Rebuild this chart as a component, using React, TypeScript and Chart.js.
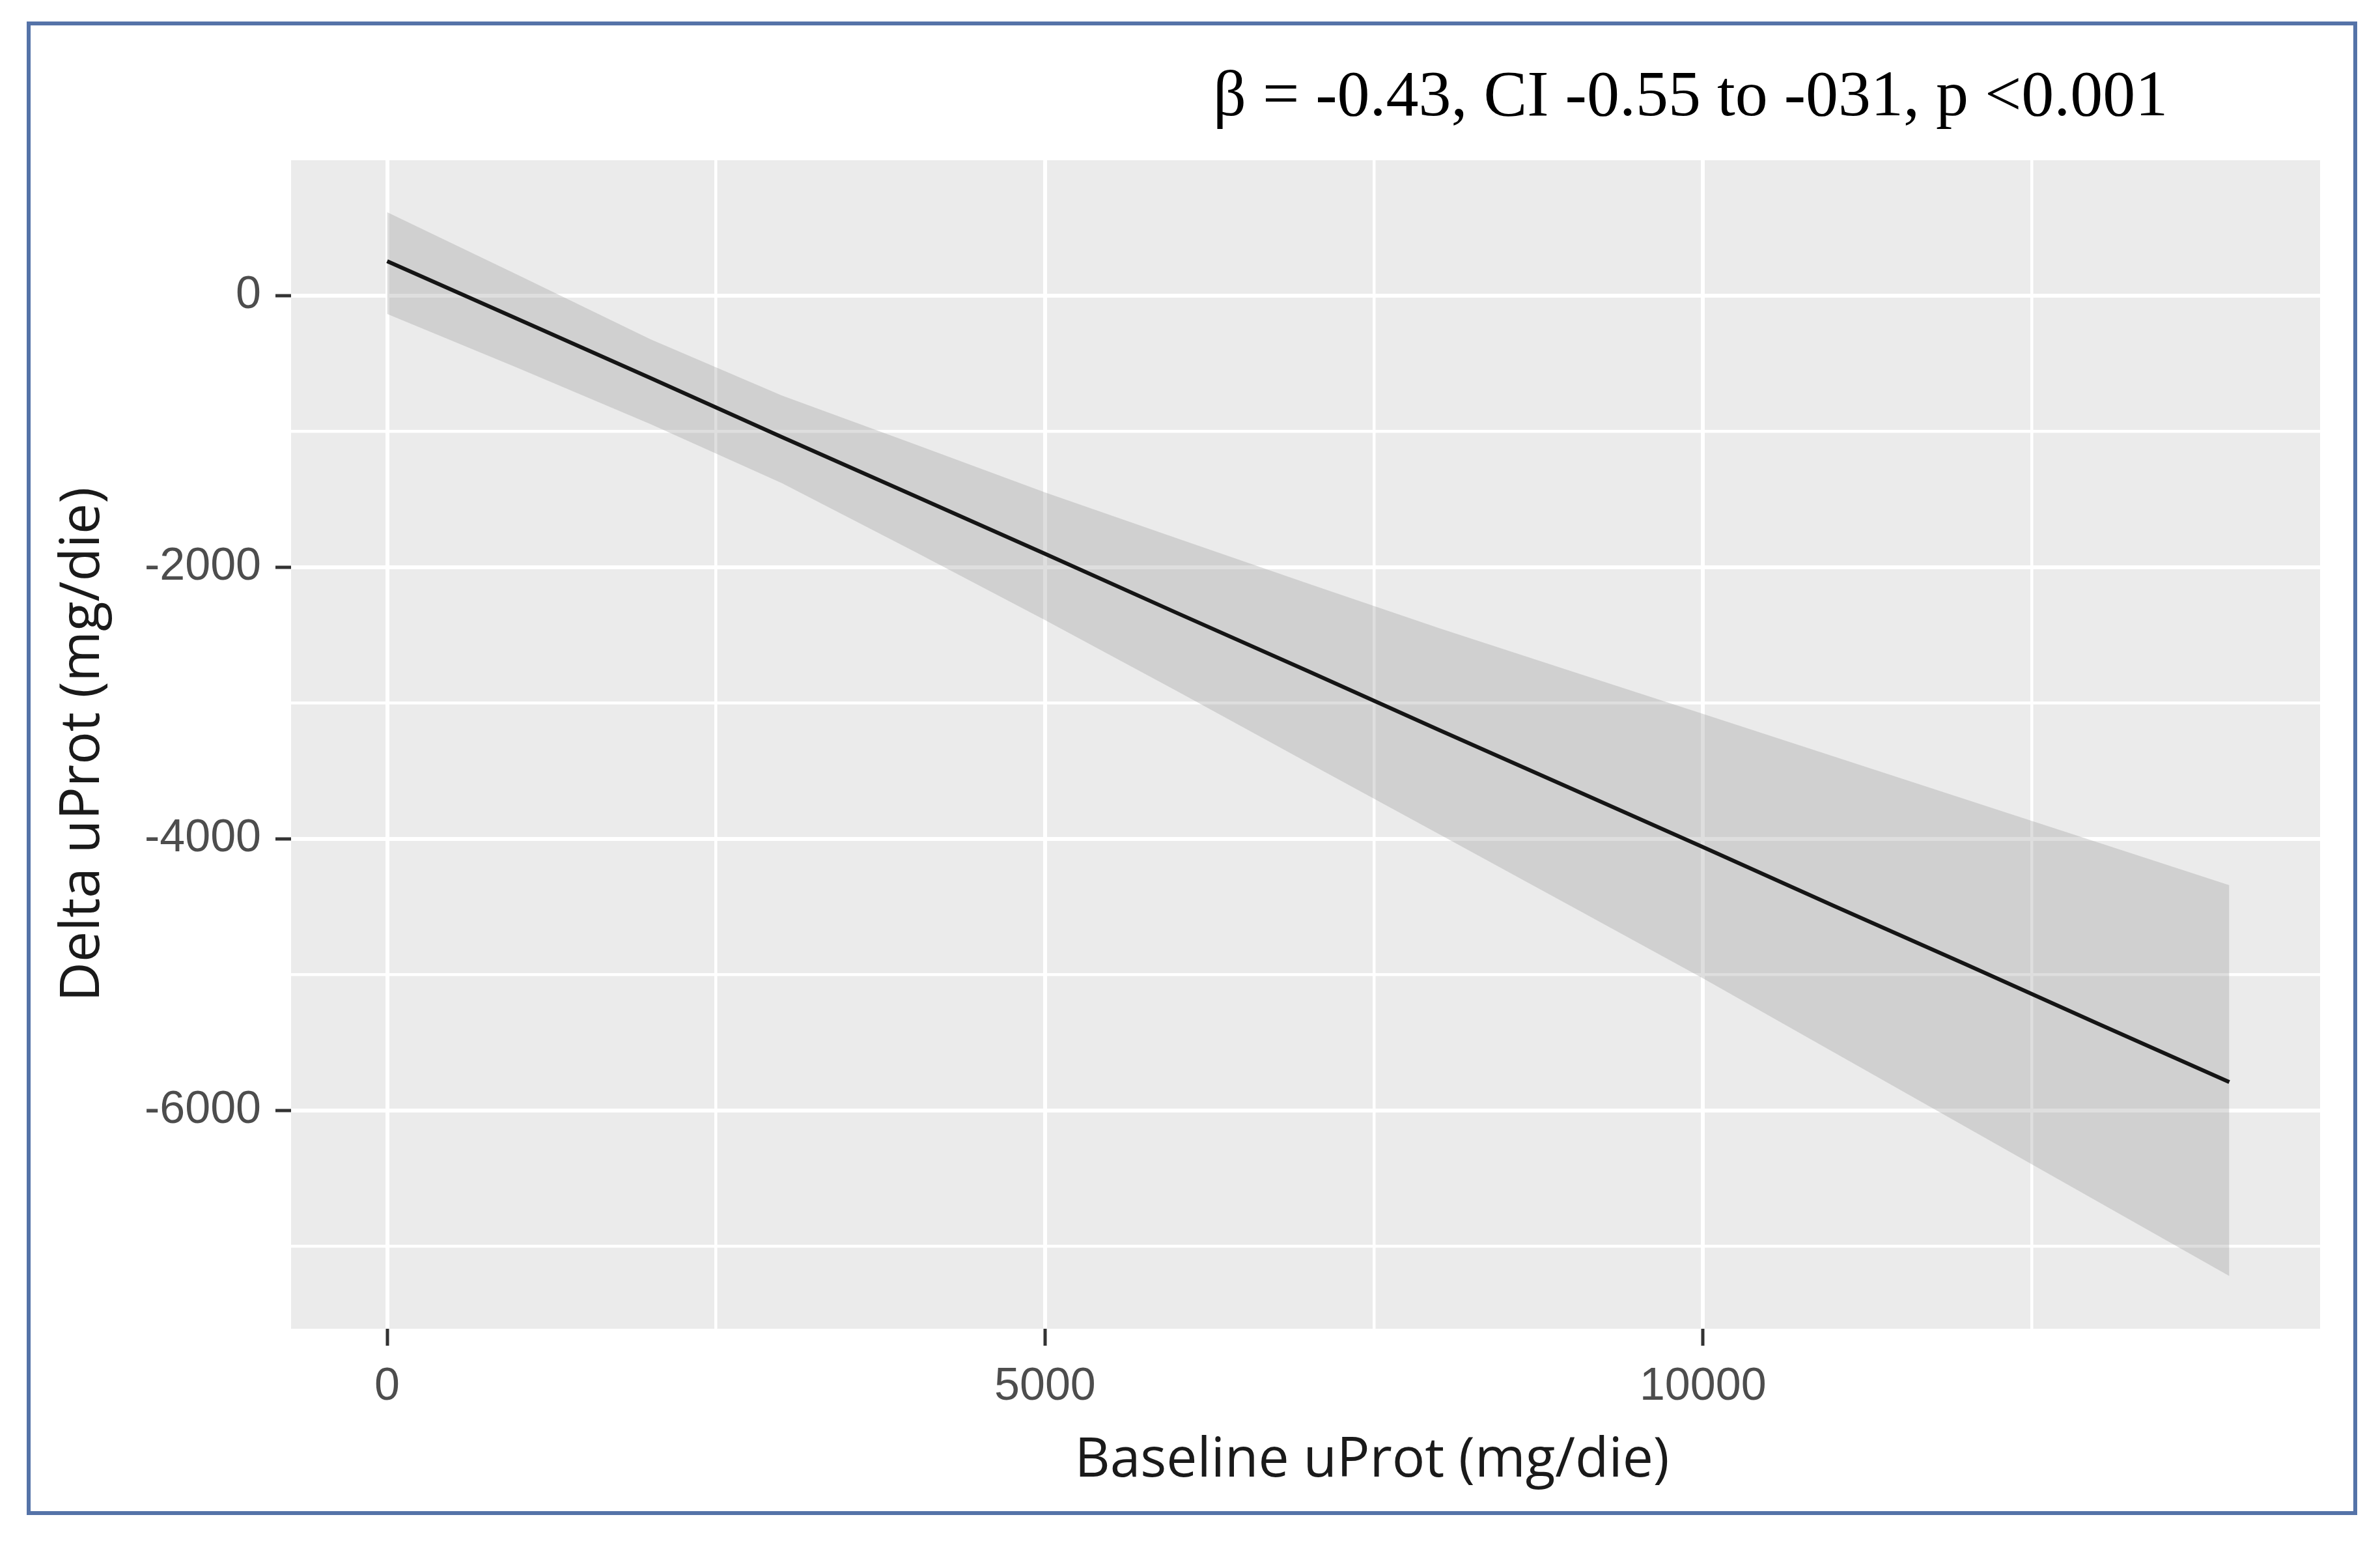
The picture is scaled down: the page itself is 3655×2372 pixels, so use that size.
import React, { useEffect, useRef } from 'react';
import { Chart, registerables } from 'chart.js';

Chart.register(...registerables);

// ---- data ----
const xValues = [0, 1000, 2000, 3000, 4000, 5000, 6000, 7000, 8000, 9000, 10000, 11000, 12000, 13000, 14000];
const fitValues = [255, -175, -605, -1040, -1470, -1900, -2335, -2765, -3200, -3630, -4060, -4495, -4925, -5360, -5790];
const upperValues = [615, 150, -320, -735, -1090, -1448, -1785, -2120, -2450, -2765, -3079, -3395, -3710, -4025, -4341];
const lowerValues = [-134, -535, -945, -1380, -1880, -2388, -2910, -3440, -3968, -4497, -5027, -5575, -6123, -6670, -7218];

const xGridTicks = [0, 2500, 5000, 7500, 10000, 12500];
const xLabelTicks = [0, 5000, 10000];
const yGridTicks = [-7000, -6000, -5000, -4000, -3000, -2000, -1000, 0];
const yLabelTicks = [-6000, -4000, -2000, 0];

const annotationText = 'β = -0.43, CI -0.55 to -031, p <0.001';
const xTitle = 'Baseline uProt (mg/die)';
const yTitle = 'Delta uProt (mg/die)';

const W = 3655;
const H = 2372;

const panelPlugin = {
  id: 'panelBg',
  beforeDraw(chart: any) {
    const { ctx, chartArea } = chart;
    ctx.save();
    ctx.fillStyle = '#EBEBEB';
    ctx.fillRect(chartArea.left, chartArea.top, chartArea.right - chartArea.left, chartArea.bottom - chartArea.top);
    ctx.restore();
  },
  afterDraw(chart: any) {
    const { ctx } = chart;
    ctx.save();
    ctx.fillStyle = '#000000';
    ctx.font = '100px "Liberation Serif", "Times New Roman", serif';
    ctx.textAlign = 'left';
    ctx.textBaseline = 'alphabetic';
    ctx.fillText(annotationText, 1863, 177);
    // x-axis title (offset to the right as in the reference)
    ctx.fillStyle = '#1a1a1a';
    ctx.font = '84px "Open Sans", sans-serif';
    ctx.textAlign = 'center';
    ctx.textBaseline = 'middle';
    ctx.fillText(xTitle, 2107, 2243);
    ctx.restore();
  },
};

export default function App() {
  const canvasRef = useRef<HTMLCanvasElement | null>(null);

  useEffect(() => {
    document.body.style.margin = '0';
    const canvas = canvasRef.current;
    if (!canvas) return;
    const toPts = (ys: number[]) => xValues.map((x, i) => ({ x, y: ys[i] }));
    const isMajorX = (v: number) => xLabelTicks.includes(v);
    const isMajorY = (v: number) => yLabelTicks.includes(v);

    const chart = new Chart(canvas, {
      type: 'line',
      data: {
        datasets: [
          {
            label: 'fit',
            data: toPts(fitValues),
            borderColor: '#151515',
            borderWidth: 6,
            pointRadius: 0,
            tension: 0,
            fill: false,
          },
          {
            label: 'upper',
            data: toPts(upperValues),
            borderWidth: 0,
            borderColor: 'rgba(0,0,0,0)',
            pointRadius: 0,
            tension: 0,
            fill: '+1',
            backgroundColor: 'rgba(153,153,153,0.32)',
          },
          {
            label: 'lower',
            data: toPts(lowerValues),
            borderWidth: 0,
            borderColor: 'rgba(0,0,0,0)',
            pointRadius: 0,
            tension: 0,
            fill: false,
          },
        ],
      },
      options: {
        animation: false,
        responsive: false,
        devicePixelRatio: 1,
        events: [],
        layout: { padding: { left: 0, top: 246, right: 92, bottom: 0 } },
        plugins: {
          legend: { display: false },
          tooltip: { enabled: false },
          title: { display: false },
        },
        scales: {
          x: {
            type: 'linear',
            min: -730,
            max: 14690,
            afterBuildTicks: (s: any) => {
              s.ticks = xGridTicks.map((v) => ({ value: v }));
            },
            afterFit: (s: any) => {
              s.height = 332;
            },
            border: { display: false },
            grid: {
              color: '#FFFFFF',
              lineWidth: (c: any) => (c.tick && isMajorX(c.tick.value) ? 6 : 4.5),
              drawTicks: true,
              tickLength: 26,
              tickWidth: (c: any) => (c.tick && isMajorX(c.tick.value) ? 5 : 0),
              tickColor: '#333333',
            },
            ticks: {
              autoSkip: false,
              maxRotation: 0,
              padding: 22,
              color: '#4D4D4D',
              font: { family: '"Liberation Sans", Arial, sans-serif', size: 70 },
              callback: (v: any) => (isMajorX(Number(v)) ? String(v) : ''),
            },
            title: { display: false },
          },
          y: {
            type: 'linear',
            min: -7607,
            max: 998,
            afterBuildTicks: (s: any) => {
              s.ticks = yGridTicks.map((v) => ({ value: v }));
            },
            afterFit: (s: any) => {
              s.width = 447;
            },
            border: { display: false },
            grid: {
              color: '#FFFFFF',
              lineWidth: (c: any) => (c.tick && isMajorY(c.tick.value) ? 6 : 4.5),
              drawTicks: true,
              tickLength: 24,
              tickWidth: (c: any) => (c.tick && isMajorY(c.tick.value) ? 5 : 0),
              tickColor: '#333333',
            },
            ticks: {
              autoSkip: false,
              padding: 22,
              color: '#4D4D4D',
              font: { family: '"Liberation Sans", Arial, sans-serif', size: 70 },
              callback: (v: any) => (isMajorY(Number(v)) ? String(v) : ''),
            },
            title: {
              display: true,
              text: yTitle,
              color: '#1a1a1a',
              font: { family: '"Open Sans", sans-serif', size: 84 },
              padding: { top: 78, bottom: 0 },
            },
          },
        },
      },
      plugins: [panelPlugin],
    } as any);

    return () => {
      chart.destroy();
    };
  }, []);

  return (
    <div style={{ position: 'absolute', left: 0, top: 0, width: W, height: H, background: '#FFFFFF', overflow: 'hidden' }}>
      <canvas ref={canvasRef} width={W} height={H} style={{ position: 'absolute', left: 0, top: 0, width: W, height: H }} />
      <div
        style={{
          position: 'absolute',
          left: 41,
          top: 33,
          width: 3579,
          height: 2293,
          boxSizing: 'border-box',
          border: '6px solid #5573A8',
          pointerEvents: 'none',
        }}
      />
    </div>
  );
}
